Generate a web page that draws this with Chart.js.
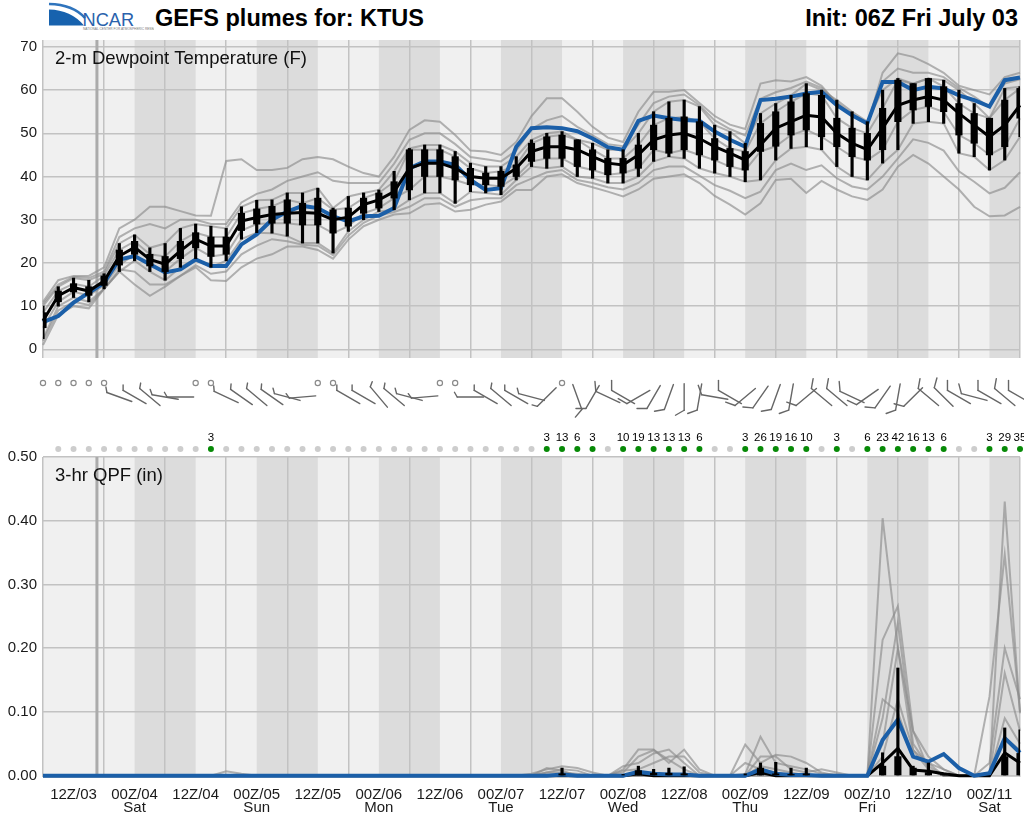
<!DOCTYPE html>
<html><head><meta charset="utf-8">
<script src="https://cdn.jsdelivr.net/npm/chart.js@4/dist/chart.umd.min.js"></script>
<style>
html,body{margin:0;padding:0;background:#fff;}
#wrap{position:relative;width:1024px;height:816px;overflow:hidden;font-family:"Liberation Sans",Arial,sans-serif;}
#c1{position:absolute;left:0;top:36px;}
#c2{position:absolute;left:0;top:362px;}
.title{position:absolute;top:7px;font-weight:bold;font-size:23.5px;line-height:1;color:#000;white-space:nowrap;}
</style></head><body>
<div id="wrap">
<svg style="position:absolute;left:44px;top:0" width="110" height="36">
 <path d="M5,9.5 Q27,10 40,25.5 L5,25.5 Z" fill="#1762ae"/>
 <path d="M5,4 Q29,4.5 41,18" stroke="#2f74bd" stroke-width="2.6" fill="none"/>
 <text x="38.5" y="25.5" font-family="Liberation Sans, Arial" font-size="18.2" fill="#2a62ac">NCAR</text>
 <text x="39" y="30" font-family="Liberation Sans, Arial" font-size="3.2" fill="#777">NATIONAL CENTER FOR ATMOSPHERIC RESEARCH</text>
</svg>
<div class="title" style="left:155px">GEFS plumes for: KTUS</div>
<div class="title" style="right:6px">Init: 06Z Fri July 03</div>
<canvas id="c1" width="1024" height="326"></canvas>
<canvas id="c2" width="1024" height="454"></canvas>
</div>
<script>
// ---------- categories / ticks ----------
const hours = [0,3,6,9,12,15,18,21,24,27,30,33,36,
  39,42,45,48,51,54,57,60,63,66,69,72,75,
  78,81,84,87,90,93,96,99,102,105,108,111,114,
  117,120,123,126,129,132,135,138,141,144,147,150,153,
  156,159,162,165,168,171,174,177,180,183,186,189,192];
const tickHours = [6,18,30,42,54,66,78,90,102,114,126,138,150,162,174,186];
const tickLabels = [["12Z/03"],["00Z/04","Sat"],["12Z/04"],["00Z/05","Sun"],["12Z/05"],["00Z/06","Mon"],["12Z/06"],["00Z/07","Tue"],["12Z/07"],["00Z/08","Wed"],["12Z/08"],["00Z/09","Thu"],["12Z/09"],["00Z/10","Fri"],["12Z/10"],["00Z/11","Sat"]];
const dewTicks = [0,10,20,30,40,50,60,70];
const qpfTicks = [0,0.1,0.2,0.3,0.4,0.5];
const nightBands = [[18,30],[42,54],[66,78],[90,102],[114,126],[138,150],[162,174],[186,198]];
const nowHour = 10.6;
const dewTitle = "2-m Dewpoint Temperature (F)";
const qpfTitle = "3-hr QPF (in)";

// ---------- dewpoint (F) ----------
const dewBlue = [6.3,7.7,10.8,13.1,15.4,20.8,21.6,19.7,17.8,18.5,20.8,19.3,19.3,
  24.3,26.6,30.0,31.9,33.2,32.7,30.8,29.6,30.8,30.9,32.7,41.9,43.5,
  43.5,42.7,39.2,36.9,37.3,46.9,51.2,51.4,51.2,50.5,48.8,46.8,46.2,
  52.9,54.1,53.5,53.1,52.9,50.4,48.5,46.9,57.7,58.0,58.5,59.2,59.6,
  56.5,54.2,52.3,61.9,61.9,60.0,60.8,60.4,58.8,57.7,56.2,62.3,62.9];
const dewMed = [6.6,12.4,14.3,13.5,15.8,21.6,23.6,20.8,19.7,22.8,25.5,23.9,23.9,
  29.7,30.5,31.2,31.5,31.7,31.5,30.0,30.6,33.5,34.6,36.5,41.9,43.1,
  43.1,41.9,40.0,39.6,39.6,41.9,45.8,46.9,46.9,46.2,44.6,43.1,42.7,
  45.0,48.5,49.6,50.0,48.8,46.9,45.4,43.8,47.3,51.2,52.7,54.2,53.8,
  50.0,47.7,46.2,51.2,56.5,57.7,58.5,57.7,54.6,51.9,49.2,51.9,56.5];
const dewQ25 = [5.0,11.0,13.3,12.5,14.8,19.5,22.0,19.3,18.0,21.0,23.5,21.5,22.0,
  27.5,29.0,29.2,29.2,28.8,28.8,26.9,28.5,31.5,32.7,35.0,36.9,40.0,
  40.0,39.2,38.1,38.1,37.7,40.0,43.5,44.2,44.2,42.3,41.5,40.4,40.8,
  41.9,46.2,45.4,46.2,45.0,43.8,42.3,41.5,45.8,47.0,49.6,50.8,49.2,
  46.9,44.6,43.8,46.2,52.7,55.4,56.2,55.0,49.6,47.7,45.0,46.9,53.5];
const dewQ75 = [8.5,13.5,15.2,14.5,17.0,23.0,25.0,22.0,21.5,25.0,27.0,26.0,26.0,
  31.5,32.5,33.1,34.6,33.8,35.0,32.3,32.7,35.0,36.2,38.8,46.2,46.2,
  46.2,44.6,41.9,40.8,41.2,42.7,47.7,49.2,49.6,48.5,46.2,44.2,44.2,
  47.3,51.9,53.5,53.8,52.7,48.8,46.5,45.8,52.3,55.0,57.3,59.2,58.8,
  53.5,51.2,50.0,55.8,62.3,61.5,62.7,60.8,56.9,54.6,53.5,57.7,60.4];
const dewWLo = [2.5,10.0,12.0,11.0,14.0,18.0,20.5,18.0,16.0,19.0,21.0,19.0,20.5,
  25.5,27.0,26.9,26.2,24.6,24.6,22.3,27.3,30.0,31.9,32.3,34.6,36.2,
  36.2,33.8,36.5,36.2,35.8,39.2,42.3,41.9,42.3,40.0,39.6,38.5,38.5,
  40.0,43.5,44.6,44.2,41.9,40.8,40.0,38.8,39.2,43.8,46.5,46.9,46.2,
  42.3,40.0,39.2,43.1,46.2,52.3,52.7,52.3,45.4,44.6,41.5,43.8,49.2];
const dewWHi = [10.0,14.5,16.5,16.0,17.5,24.5,26.5,23.5,24.5,28.0,29.0,28.5,28.0,
  33.0,34.5,34.6,36.2,36.2,37.3,32.7,35.4,36.2,36.9,41.2,46.5,47.3,
  47.3,45.8,43.1,42.3,42.3,44.6,48.5,50.0,50.4,48.5,47.7,46.2,46.2,
  50.0,55.0,57.3,57.7,56.2,51.9,50.4,47.7,54.6,56.9,58.8,61.5,60.0,
  57.7,55.0,52.7,60.0,62.7,61.5,62.7,62.3,60.0,56.9,53.5,60.4,60.8];
const dewMemA = [11,16,17,17,19,28,30,33,33,32,31,30.9,43.6,
  44,41.5,41.5,42,44,44.5,44,42.3,40.8,40,44.6,50.8,53,
  52.7,49.6,46,45.8,45,48,54,58.1,58.1,55,51.5,49,48,
  55,59.6,59.6,60,57,54,52,51,61.5,62.3,62,63,61,
  57,54,52,64,68.5,67.7,66,64,61,60,59,63,64];
const dewMemB = [1,8,10,9.5,14,18,15,12.4,14.5,17,19,16,15.8,
  19,21,22,23.8,23.8,23,21,25.4,28.5,30,31.2,31.5,33.5,
  33.8,31.9,32.3,33.5,34.2,36.9,36.9,40,40.5,38.5,37.5,36.5,35.4,
  37,39.5,40,40.5,38.5,35.5,33.5,31.2,33.8,39.2,39.5,36.2,39,
  37,35.4,34.6,37,42.3,45,43,40,37,33,30.8,31,33];
const dewMemC = [10.5,15,16.8,16.5,18,26,28,29,28,30,30,29,29,
  34,36,37,39,40,41,39,38.5,38.5,38.5,43,48.5,50,
  50,47.5,44.5,44,43.5,46,51,53,54,51.5,49.5,47.5,47,
  52,57,58.5,59,56.5,53,51,49.5,58,59.5,60.5,62,60.5,
  57.2,54.5,52.3,62,65,64,64,63,60.5,58.5,56,61.5,62.5];
const dewMemD = [2,9,11,10.3,14,18.5,18,15,15,17,19.5,17.5,18,
  22,24,25.5,25,24.2,24,21.8,26.3,29.3,31,31.8,33,35,
  35,33,34.5,35,35,38,39.5,41,41.5,39.2,38.5,37.5,37,
  38.5,41.5,42.3,42.3,40.2,38,36.7,35,36.5,41.5,43,41.5,42.6,
  39.6,37.7,37,40,44.2,48.6,47.8,46,41.2,38.8,36.1,37.4,41];

// ---------- wind (kt, deg) ----------
const windSpd = [0,0,0,0,0,5,5,5,5,5,0,0,5,
  5,5,5,5,5,0,0,5,5,5,5,5,5,
  0,0,5,5,5,5,5,5,0,10,10,10,10,
  10,10,10,10,10,10,10,10,10,10,10,10,10,
  10,10,10,10,10,10,10,10,10,10,10,10,10];
const windDir = [0,0,0,0,0,290,300,310,280,270,0,0,295,
  305,310,305,285,265,0,0,300,300,320,310,285,265,
  0,0,270,300,310,300,285,225,0,160,210,295,300,
  240,210,200,180,190,280,300,230,215,200,190,230,310,
  310,295,235,215,190,225,310,315,300,285,300,310,300];

// ---------- QPF (in) ----------
const qpfProb = [null,0,0,0,0,0,0,0,0,0,0,3,0,
  0,0,0,0,0,0,0,0,0,0,0,0,0,
  0,0,0,0,0,0,0,3,13,6,3,0,10,
  19,13,13,13,6,0,0,3,26,19,16,10,0,
  3,0,6,23,42,16,13,6,0,0,3,29,35];
const qpfBlue = [0,0,0,0,0,0,0,0,0,0,0,0,0,
  0,0,0,0,0,0,0,0,0,0,0,0,0,
  0,0,0,0,0,0,0,0,0.002,0,0,0,0,
  0.006,0.003,0.002,0.002,0,0,0,0,0.01,0.003,0.001,0.001,0,
  0,0,0,0.056,0.088,0.03,0.022,0.034,0.012,0,0.004,0.059,0.036];
const qpfMed = [0,0,0,0,0,0,0,0,0,0,0,0,0,
  0,0,0,0,0,0,0,0,0,0,0,0,0,
  0,0,0,0,0,0,0,0,0,0,0,0,0,
  0.003,0,0,0,0,0,0,0,0.005,0,0,0,0,
  0,0,0,0.02,0.043,0.009,0.007,0.003,0,0,0,0.036,0.02];
const qpfQ75 = [0,0,0,0,0,0,0,0,0,0,0,0,0,
  0,0,0,0,0,0,0,0,0,0,0,0,0,
  0,0,0,0,0,0,0,0,0.003,0,0,0,0,
  0.008,0.004,0.004,0.003,0,0,0,0,0.012,0.003,0.002,0.003,0,
  0,0,0,0.015,0.03,0.012,0.005,0.002,0,0,0,0.03,0.035];
const qpfWHi = [0,0,0,0,0,0,0,0,0,0,0,0,0,
  0,0,0,0,0,0,0,0,0,0,0,0,0,
  0,0,0,0,0,0,0,0,0.012,0,0,0,0.002,
  0.015,0.01,0.012,0.014,0,0,0,0.003,0.02,0.021,0.012,0.012,0,
  0,0,0,0.036,0.169,0.015,0.02,0.004,0,0,0,0.075,0.072];
const qpfMem1 = [0,0,0,0,0,0,0,0,0,0,0,0,0,
  0,0,0,0,0,0,0,0,0,0,0,0,0,
  0,0,0,0,0,0,0,0,0,0,0,0,0,
  0,0,0,0,0,0,0,0,0,0,0,0,0,
  0,0,0,0.404,0.2,0.04,0.01,0,0,0,0,0.43,0.098];
const qpfMem2 = [0,0,0,0,0,0,0,0,0,0,0,0,0,
  0,0,0,0,0,0,0,0,0,0,0,0,0,
  0,0,0,0,0,0,0,0,0,0,0,0,0,
  0,0,0,0,0,0,0,0.02,0.01,0.005,0,0,0,
  0,0,0,0.213,0.266,0.07,0.01,0,0,0,0.124,0.347,0.1];
const qpfMem3 = [0,0,0,0,0,0,0,0,0,0,0,0,0,
  0,0,0,0,0,0,0,0,0,0,0,0,0,
  0,0,0,0,0,0,0,0.005,0.01,0.008,0,0,0.005,
  0.03,0.04,0.025,0.01,0,0,0,0,0.015,0.01,0.005,0,0,
  0,0,0,0.09,0.24,0.05,0.015,0,0,0,0,0.161,0.07];
const qpfMem4 = [0,0,0,0,0,0,0,0,0,0,0,0,0.007,
  0.003,0,0,0,0,0,0,0,0,0,0,0,0,
  0,0,0,0,0,0,0.003,0.01,0.015,0.012,0.005,0,0.01,
  0.041,0.041,0.02,0.041,0.01,0,0,0.049,0.02,0.033,0.03,0.02,0.005,
  0,0,0,0.05,0.2,0.07,0.03,0.01,0,0,0,0.09,0.05];
const qpfMem5 = [0,0,0,0,0,0,0,0,0,0,0,0,0,
  0,0,0,0,0,0,0,0,0,0,0,0,0,
  0,0,0,0,0,0,0,0.012,0.008,0,0,0,0.015,
  0.02,0.035,0.041,0.02,0,0,0,0.003,0.061,0.02,0.015,0.01,0.003,
  0.002,0,0,0.12,0.1,0.03,0.02,0.01,0,0,0.02,0.2,0.12];
const qpfMem6 = [0,0,0,0,0,0,0,0,0,0,0,0,0,
  0,0,0,0,0,0,0,0,0,0,0,0,0,
  0,0,0,0,0,0,0,0.005,0.005,0.003,0,0,0.008,
  0.01,0.02,0.03,0.03,0.005,0,0,0,0.03,0.03,0.01,0.005,0.01,
  0.005,0,0,0.03,0.12,0.04,0.02,0,0,0,0.005,0.06,0.04];

// ---------- helpers ----------
Chart.defaults.font.family = "'Liberation Sans', Arial, sans-serif";
const pts = a => hours.map((h,i)=>({x:h,y:a[i]}));
const rng = (lo,hi) => hours.map((h,i)=>({x:h,y:[lo[i],hi[i]]})).filter(p=>p.y[1]>p.y[0]);
const grayLine = a => ({type:'line', data:pts(a), borderColor:'rgba(140,140,140,0.65)', borderWidth:2, pointRadius:0, order:10, clip:6});

const bandPlugin = {
  id:'bands',
  beforeDraw(chart){
    const {ctx, chartArea:a, scales:{x}} = chart;
    ctx.save();
    ctx.fillStyle = '#f0f0f0';
    ctx.fillRect(a.left, a.top, a.width, a.height);
    ctx.fillStyle = '#dcdcdc';
    nightBands.forEach(([s,e])=>{
      const x0 = Math.max(a.left, x.getPixelForValue(s));
      const x1 = Math.min(a.right, x.getPixelForValue(e));
      if (x1 > x0) ctx.fillRect(x0, a.top, x1-x0, a.height);
    });
    ctx.restore();
  },
  beforeDatasetsDraw(chart){
    const {ctx, chartArea:a, scales:{x}} = chart;
    ctx.save();
    ctx.strokeStyle = '#ababab';
    ctx.lineWidth = 3;
    const px = x.getPixelForValue(nowHour);
    ctx.beginPath(); ctx.moveTo(px, a.top); ctx.lineTo(px, a.bottom); ctx.stroke();
    ctx.fillStyle = '#111';
    ctx.font = "18.5px 'Liberation Sans', Arial, sans-serif";
    ctx.textBaseline = 'alphabetic';
    ctx.fillText(chart.options.plugins.bands.label, a.left + 12, a.top + 24);
    ctx.restore();
  }
};

const barbPlugin = {
  id:'barbs',
  afterDraw(chart){
    const {ctx, chartArea:a, scales:{x}} = chart;
    ctx.save();
    const yCirc = a.top - 74, yBarb = a.top - 60, L = 26.5;
    const c60 = Math.cos(Math.PI/3), s60 = Math.sin(Math.PI/3);
    hours.forEach((h,i)=>{
      const px = x.getPixelForValue(h);
      const spd = windSpd[i];
      if (spd === 0) {
        ctx.strokeStyle = '#8a8a8a'; ctx.lineWidth = 1.2;
        ctx.beginPath(); ctx.arc(px, yCirc, 2.6, 0, Math.PI*2); ctx.stroke();
        return;
      }
      const r = windDir[i]*Math.PI/180;
      const dx = Math.sin(r), dy = -Math.cos(r);
      const ex = px + dx*L/2, ey = yBarb + dy*L/2;
      const sx = px - dx*L/2, sy = yBarb - dy*L/2;
      ctx.strokeStyle = '#666'; ctx.lineWidth = 1.4; ctx.lineCap = 'round';
      ctx.beginPath(); ctx.moveTo(sx, sy); ctx.lineTo(ex, ey); ctx.stroke();
      const fx = c60*dx - s60*dy, fy = s60*dx + c60*dy;
      let rem = spd, pos = 0;
      while (rem >= 10) {
        const bx = ex - dx*pos, by = ey - dy*pos;
        ctx.beginPath(); ctx.moveTo(bx, by); ctx.lineTo(bx + fx*10, by + fy*10); ctx.stroke();
        pos += 4; rem -= 10;
      }
      if (rem >= 5) {
        const bx = ex - dx*pos, by = ey - dy*pos;
        ctx.beginPath(); ctx.moveTo(bx, by); ctx.lineTo(bx + fx*5.5, by + fy*5.5); ctx.stroke();
      }
    });
    // probability dots
    const yDot = a.top - 8, yNum = a.top - 19;
    ctx.font = "11.5px 'Liberation Sans', Arial, sans-serif";
    ctx.textAlign = 'center'; ctx.textBaseline = 'middle';
    hours.forEach((h,i)=>{
      const p = qpfProb[i];
      if (p === null) return;
      const px = x.getPixelForValue(h);
      ctx.fillStyle = p > 0 ? '#078a07' : '#cdcdcd';
      ctx.beginPath(); ctx.arc(px, yDot, 3, 0, Math.PI*2); ctx.fill();
      if (p > 0) { ctx.fillStyle = '#000'; ctx.fillText(String(p), px, yNum); }
    });
    ctx.restore();
  }
};

const tickFont = {family:"'Liberation Sans', Arial, sans-serif", size:15};
function xScale(showLabels){
  return {
    type:'linear', min:0, max:192, offset:false,
    afterBuildTicks: s => { s.ticks = tickHours.map(v=>({value:v})); },
    ticks: showLabels ? {
      display:true, autoSkip:false, maxRotation:0, padding:11, color:'#1a1a1a',
      font:{...tickFont, lineHeight:0.87},
      callback:(v)=>{ const k = tickHours.indexOf(v); return k>=0 ? tickLabels[k] : ''; }
    } : {display:false},
    grid:{color:'#c2c2c2', lineWidth:1.5, drawTicks:false},
    border:{display:false},
    afterFit: s => { s.height = showLabels ? 36 : 0; s.paddingLeft = 0; s.paddingRight = 0; }
  };
}
function yScale(min, max, ticksArr, fmt){
  return {
    min, max,
    afterBuildTicks: s => { s.ticks = ticksArr.map(v=>({value:v})); },
    ticks:{font:tickFont, color:'#1a1a1a', padding:6, callback:fmt},
    grid:{color:'#c2c2c2', lineWidth:1.5, drawTicks:false}, border:{display:false},
    afterFit: s => { s.width = 43; s.paddingTop = 0; s.paddingBottom = 0; }
  };
}

// ---------- top chart: dewpoint ----------
new Chart(document.getElementById('c1'), {
  type:'line',
  data:{datasets:[
    ...[dewMemA,dewMemB,dewMemC,dewMemD,dewWHi,dewWLo,dewQ75,dewQ25].map(grayLine),
    {type:'line', data:pts(dewBlue), borderColor:'#1b5fa8', borderWidth:4, pointRadius:0, order:5, clip:6},
    {type:'line', data:pts(dewMed), borderColor:'#000', borderWidth:3, pointRadius:0, order:4, clip:6},
    {type:'bar', data:rng(dewWLo,dewWHi), backgroundColor:'#000', barThickness:2.5, grouped:false, order:2},
    {type:'bar', data:rng(dewQ25,dewQ75), backgroundColor:'#000', barThickness:6.5, grouped:false, order:1}
  ]},
  options:{
    responsive:false, animation:false, events:[],
    layout:{padding:{top:4, bottom:4, left:0, right:4}},
    plugins:{legend:{display:false}, tooltip:{enabled:false}, bands:{label:dewTitle}},
    scales:{
      x: xScale(false),
      y: yScale(-2, 71.6, dewTicks, v=>String(v))
    }
  },
  plugins:[bandPlugin]
});

// ---------- bottom chart: QPF ----------
new Chart(document.getElementById('c2'), {
  type:'line',
  data:{datasets:[
    ...[qpfMem1,qpfMem2,qpfMem3,qpfMem4,qpfMem5,qpfMem6].map(grayLine),
    {type:'line', data:pts(qpfMed), borderColor:'#000', borderWidth:3, pointRadius:0, order:5, clip:6},
    {type:'line', data:pts(qpfBlue), borderColor:'#1b5fa8', borderWidth:4, pointRadius:0, order:4, clip:6},
    {type:'bar', data:rng(qpfMed.map(()=>0), qpfWHi), backgroundColor:'#000', barThickness:2.5, grouped:false, order:2},
    {type:'bar', data:rng(qpfMed.map(()=>0), qpfQ75), backgroundColor:'#000', barThickness:6.5, grouped:false, order:1}
  ]},
  options:{
    responsive:false, animation:false, events:[],
    layout:{padding:{top:95, bottom:3, left:0, right:4}},
    plugins:{legend:{display:false}, tooltip:{enabled:false}, bands:{label:qpfTitle}},
    scales:{
      x: xScale(true),
      y: yScale(-0.002, 0.5, qpfTicks, v=>Number(v).toFixed(2))
    }
  },
  plugins:[bandPlugin, barbPlugin]
});
</script>
</body></html>
